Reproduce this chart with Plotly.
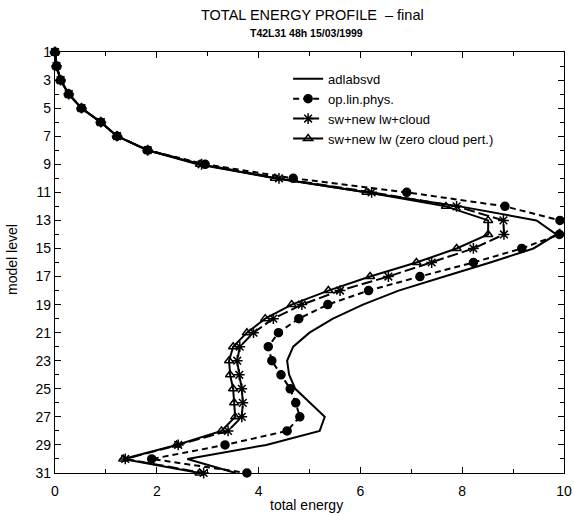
import plotly.graph_objects as go

# model levels (1 = top of atmosphere, 31 = surface)
levels = list(range(1, 32))

# total energy per model level for each experiment
adlabsvd = [0.0, 0.03, 0.11, 0.27, 0.52, 0.90, 1.22, 1.82, 2.80, 4.35,
            6.10, 7.95, 9.46, 9.85, 9.40, 8.55, 7.65, 6.75, 6.05, 5.46,
            5.00, 4.68, 4.56, 4.60, 4.72, 5.00, 5.30, 5.20, 4.15, 2.60, 3.55]
op_lin_phys = [0.0, 0.03, 0.11, 0.27, 0.52, 0.90, 1.22, 1.82, 2.95, 4.68,
               6.91, 8.84, 9.92, 9.91, 9.17, 8.22, 7.17, 6.16, 5.36, 4.79,
               4.39, 4.19, 4.26, 4.44, 4.62, 4.73, 4.81, 4.56, 3.34, 1.90, 3.77]
sw_lw_cloud = [0.0, 0.03, 0.11, 0.27, 0.52, 0.90, 1.22, 1.82, 2.88, 4.40,
               6.22, 7.89, 8.81, 8.82, 8.22, 7.40, 6.55, 5.60, 4.85, 4.29,
               3.90, 3.63, 3.58, 3.62, 3.67, 3.69, 3.67, 3.40, 2.42, 1.38, 2.92]
sw_lw_zero = [0.0, 0.03, 0.11, 0.27, 0.52, 0.90, 1.22, 1.82, 2.85, 4.32,
              6.12, 7.68, 8.51, 8.51, 7.89, 7.10, 6.19, 5.37, 4.65, 4.13,
              3.77, 3.50, 3.42, 3.44, 3.50, 3.52, 3.54, 3.27, 2.39, 1.34, 2.84]

series = [
    ("adlabsvd", adlabsvd, "solid", None, 0),
    ("op.lin.phys.", op_lin_phys, "6px,4px", "circle", 8),
    ("sw+new lw+cloud", sw_lw_cloud, "11px,4px", "asterisk-open", 9),
    ("sw+new lw (zero cloud pert.)", sw_lw_zero, "solid", "triangle-up-open", 8),
]

fig = go.Figure()
for name, vals, dash, symbol, size in series:
    fig.add_trace(go.Scatter(
        x=vals, y=levels, name=name,
        mode="lines+markers" if symbol else "lines",
        line=dict(color="black", width=2, dash=dash),
        marker=dict(symbol=symbol or "circle", size=size, color="black",
                    line=dict(color="black", width=1.5)),
        cliponaxis=False,
    ))

font_family = "Liberation Sans, Arial, sans-serif"

fig.update_layout(
    width=574, height=515,
    margin=dict(l=55, r=10, t=52, b=42, autoexpand=False),
    paper_bgcolor="white", plot_bgcolor="white",
    font=dict(family=font_family, color="black", size=13),
    showlegend=True,
    legend=dict(x=0.458, y=0.972, xanchor="left", yanchor="top",
                bgcolor="rgba(0,0,0,0)", font=dict(size=13),
                itemwidth=30, tracegroupgap=0),
    annotations=[
        dict(text="TOTAL ENERGY PROFILE  – final", xref="paper", yref="paper",
             x=0.505, y=1.0, yshift=37, showarrow=False,
             xanchor="center", yanchor="middle", font=dict(size=14.5)),
        dict(text="<b>T42L31 48h 15/03/1999</b>", xref="paper", yref="paper",
             x=0.495, y=1.0, yshift=19, showarrow=False,
             xanchor="center", yanchor="middle", font=dict(size=10.5)),
        # axis titles
        dict(text="total energy", xref="paper", yref="paper",
             x=0.495, y=0.0, yshift=-32, showarrow=False,
             xanchor="center", yanchor="middle", font=dict(size=14)),
        dict(text="model level", xref="paper", yref="paper",
             x=0.0, y=0.506, xshift=-43, showarrow=False, textangle=-90,
             xanchor="center", yanchor="middle", font=dict(size=14)),
    ],
)

fig.update_xaxes(
    range=[0, 10], tick0=0, dtick=2,
    ticks="inside", ticklen=6, tickcolor="black",
    minor=dict(dtick=1, ticks="inside", ticklen=4, tickcolor="black"),
    showline=True, linecolor="black", linewidth=1.2, mirror="ticks",
    showgrid=False, zeroline=False, automargin=False,
    ticklabelstandoff=5,
    tickfont=dict(size=14),
)
fig.update_yaxes(
    range=[31, 1], tick0=1, dtick=2,
    ticks="inside", ticklen=6, tickcolor="black",
    minor=dict(dtick=1, ticks="inside", ticklen=4, tickcolor="black"),
    showline=True, linecolor="black", linewidth=1.2, mirror="ticks",
    showgrid=False, zeroline=False, automargin=False,
    tickfont=dict(size=14),
)

fig.write_html("out.html")
